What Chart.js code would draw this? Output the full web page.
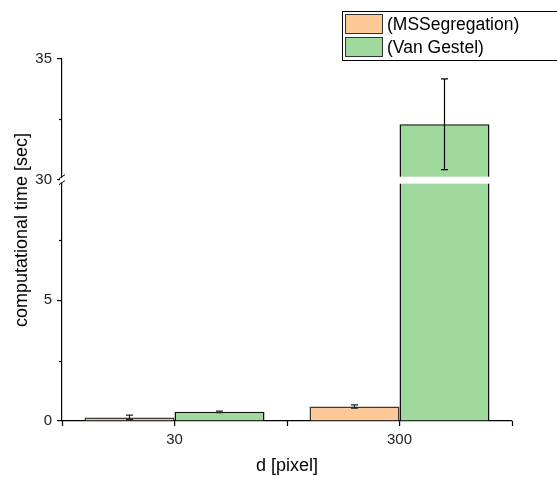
<!DOCTYPE html>
<html>
<head>
<meta charset="utf-8">
<script src="https://cdn.jsdelivr.net/npm/chart.js@4/dist/chart.umd.min.js"></script>
<style>
  html, body { margin: 0; padding: 0; background: #fff; }
  canvas { display: block; }
</style>
</head>
<body>
<canvas id="chart" width="557" height="477"></canvas>
<script>
// data
const categories = ['30', '300'];
const seriesNames = ['(MSSegregation)', '(Van Gestel)'];
const msValues = [0.15, 0.6];
const msErrors = [0.09, 0.07];
const vgValues = [0.38, 32.3];
const vgErrors = [0.03, 1.88];

// broken axis: lower part 0..10, upper part 30..35
const lowerRange = [0, 10];
const upperRange = [30, 35];
const majorTicks = [0, 5, 30, 35];
const minorTicks = [2.5, 7.5, 32.5];

const cut = upperRange[0] - lowerRange[1];
function toAxis(v) { return v >= upperRange[0] ? v - cut : v; }
function fromAxis(v) { return v >= lowerRange[1] ? v + cut : v; }

const FONT = 'Liberation Sans, Arial, sans-serif';

const extras = {
  id: 'extras',
  afterDatasetsDraw(chart) {
    const ctx = chart.ctx;
    const y = chart.scales.y;
    const area = chart.chartArea;
    // white gap through bars at the break
    const yb = y.getPixelForValue(lowerRange[1]);
    ctx.save();
    ctx.fillStyle = '#fff';
    ctx.fillRect(area.left + 2, yb - 3, area.right - area.left - 2, 7);
    ctx.restore();

    // error bars
    const errs = [msErrors, vgErrors];
    chart.data.datasets.forEach(function(ds, i) {
      const meta = chart.getDatasetMeta(i);
      meta.data.forEach(function(bar, j) {
        const v = ds.raw[j], e = errs[i][j];
        const yTop = y.getPixelForValue(toAxis(v + e));
        const yBot = y.getPixelForValue(toAxis(v - e));
        ctx.save();
        ctx.strokeStyle = e < 0.5 ? '#222' : '#000';
        ctx.lineWidth = 1.2;
        ctx.beginPath();
        ctx.moveTo(bar.x, yTop); ctx.lineTo(bar.x, yBot);
        ctx.moveTo(bar.x - 3.5, yTop); ctx.lineTo(bar.x + 3.5, yTop);
        ctx.moveTo(bar.x - 3.5, yBot); ctx.lineTo(bar.x + 3.5, yBot);
        ctx.stroke();
        ctx.restore();
      });
    });
  },
  afterDraw(chart) {
    const ctx = chart.ctx;
    const y = chart.scales.y;
    const x = chart.scales.x;
    const area = chart.chartArea;
    ctx.save();
    ctx.strokeStyle = '#000';
    ctx.lineWidth = 1.2;

    // minor y ticks
    minorTicks.forEach(function(t) {
      const py = Math.round(y.getPixelForValue(toAxis(t))) + 0.5;
      ctx.beginPath();
      ctx.moveTo(area.left - 3, py); ctx.lineTo(area.left, py);
      ctx.stroke();
    });

    // x ticks at category boundaries
    const half = (x.getPixelForValue(1) - x.getPixelForValue(0)) / 2;
    [x.getPixelForValue(0) - half, x.getPixelForValue(0) + half, x.getPixelForValue(1) + half].forEach(function(px) {
      px = Math.round(px) + 0.5;
      ctx.beginPath();
      ctx.moveTo(px, area.bottom); ctx.lineTo(px, area.bottom + 5);
      ctx.stroke();
    });

    // axis break marker
    const yb = y.getPixelForValue(lowerRange[1]);
    ctx.fillStyle = '#fff';
    ctx.fillRect(area.left - 2, yb - 2, 4, 5);
    ctx.lineWidth = 1;
    ctx.beginPath();
    ctx.moveTo(area.left - 3, yb - 1); ctx.lineTo(area.left + 3, yb - 5);
    ctx.moveTo(area.left - 3, yb + 5); ctx.lineTo(area.left + 3, yb + 1);
    ctx.stroke();

    // y title
    ctx.save();
    ctx.translate(22, 230);
    ctx.rotate(-Math.PI / 2);
    ctx.fillStyle = '#000';
    ctx.font = '18px ' + FONT;
    ctx.textAlign = 'center';
    ctx.textBaseline = 'middle';
    ctx.fillText('computational time [sec]', 0, 0);
    ctx.restore();

    // legend box
    const lx = 342, ly = 11;
    ctx.lineWidth = 1;
    ctx.strokeStyle = '#000';
    ctx.strokeRect(lx + 0.5, ly + 0.5, 240, 49);
    ctx.font = '17.5px ' + FONT;
    ctx.textBaseline = 'middle';
    chart.data.datasets.forEach(function(ds, i) {
      const sy = ly + 3 + i * 23;
      ctx.fillStyle = ds.backgroundColor;
      ctx.fillRect(lx + 3, sy, 38, 20);
      ctx.strokeStyle = '#333';
      ctx.strokeRect(lx + 3.5, sy + 0.5, 37, 19);
      ctx.fillStyle = '#000';
      ctx.fillText(ds.label, lx + 45, sy + 11);
    });
    ctx.restore();
  }
};

const config = {
  type: 'bar',
  data: {
    labels: categories,
    datasets: [
      {
        label: seriesNames[0],
        raw: msValues,
        data: msValues.map(toAxis),
        backgroundColor: '#fdc997',
        borderColor: '#3a3a3a',
        borderWidth: 1.5,
        borderSkipped: 'bottom'
      },
      {
        label: seriesNames[1],
        raw: vgValues,
        data: vgValues.map(toAxis),
        backgroundColor: '#9fd99e',
        borderColor: '#111',
        borderWidth: 1.5,
        borderSkipped: 'bottom'
      }
    ]
  },
  options: {
    responsive: false,
    animation: false,
    devicePixelRatio: 1,
    categoryPercentage: 0.8,
    barPercentage: 1.0,
    layout: { padding: { top: 59, right: 45, left: 0, bottom: 0 } },
    plugins: { legend: { display: false }, tooltip: { enabled: false } },
    scales: {
      x: {
        type: 'category',
        offset: true,
        afterFit(s) { s.height = 56; },
        grid: { drawOnChartArea: false, offset: false, tickLength: 5, color: '#000', lineWidth: 1.2 },
        border: { color: '#000', width: 1.2 },
        ticks: { color: '#222', font: { family: FONT, size: 15 }, padding: 5 },
        title: { display: true, text: 'd [pixel]', color: '#000', font: { family: FONT, size: 18 }, padding: { top: 4, bottom: 0 } }
      },
      y: {
        min: 0,
        max: toAxis(upperRange[1]),
        afterFit(s) { s.width = 62; },
        afterBuildTicks(s) { s.ticks = majorTicks.map(function(t) { return { value: toAxis(t) }; }); },
        grid: { drawOnChartArea: false, tickLength: 5, color: '#000', lineWidth: 1.2 },
        border: { color: '#000', width: 1.2 },
        ticks: {
          color: '#222',
          font: { family: FONT, size: 15 },
          padding: 5,
          callback: function(v) { return String(fromAxis(v)); }
        },
        title: { display: false }
      }
    }
  },
  plugins: [extras]
};

new Chart(document.getElementById('chart'), config);
</script>
</body>
</html>
